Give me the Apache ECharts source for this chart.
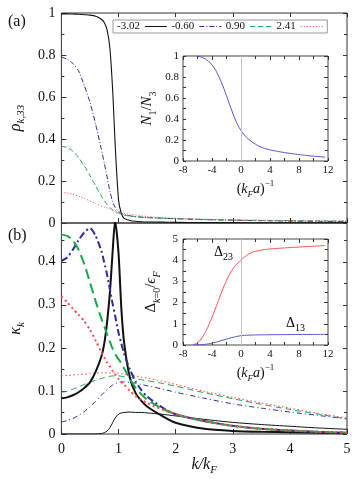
<!DOCTYPE html>
<html>
<head>
<meta charset="utf-8">
<script src="https://cdn.jsdelivr.net/npm/echarts@6/dist/echarts.min.js"></script>
<style>
  html,body{margin:0;padding:0;background:#fff;}
  #chart{width:357px;height:479px;}
</style>
</head>
<body>
<div id="chart"></div>
<script>
  // k/k_F grid shared by both main panels
  var kGrid = [0,0.1,0.2,0.3,0.4,0.5,0.6,0.7,0.75,0.8,0.85,0.9,0.94,1.0,1.05,1.1,1.2,1.3,1.4,1.5,1.75,2,2.5,3,3.5,4,4.5,5];
  var legendNames = ['-3.02','-0.60','0.90','2.41'];

  // panel (a): rho_{k,33}
  var rhoBlack = [0.996,0.996,0.995,0.994,0.992,0.99,0.985,0.97,0.955,0.92,0.83,0.62,0.38,0.11,0.045,0.022,0.012,0.008,0.006,0.005,0.004,0.003,0.002,0.002,0.001,0.001,0.001,0.001];
  var rhoBlue  = [0.79,0.78,0.76,0.725,0.655,0.575,0.47,0.35,0.285,0.22,0.15,0.1,0.075,0.055,0.046,0.04,0.034,0.03,0.028,0.026,0.023,0.02,0.016,0.013,0.011,0.009,0.008,0.007];
  var rhoGreen = [0.365,0.36,0.342,0.312,0.272,0.226,0.176,0.128,0.107,0.088,0.073,0.062,0.055,0.047,0.042,0.038,0.033,0.03,0.028,0.026,0.023,0.021,0.017,0.014,0.012,0.011,0.01,0.009];
  var rhoRed   = [0.146,0.143,0.137,0.128,0.117,0.105,0.093,0.081,0.076,0.071,0.066,0.061,0.058,0.053,0.049,0.046,0.041,0.037,0.034,0.031,0.026,0.023,0.018,0.015,0.013,0.011,0.01,0.009];

  // panel (b): kappa_k, thick and thin curve for each value
  var kapBlackThick = [0.083,0.085,0.09,0.097,0.107,0.12,0.145,0.18,0.21,0.26,0.33,0.43,0.495,0.42,0.29,0.21,0.13,0.095,0.077,0.064,0.043,0.026,0.012,0.007,0.005,0.004,0.003,0.002];
  var kapBlueThick  = [0.402,0.41,0.428,0.45,0.468,0.478,0.46,0.425,0.398,0.37,0.335,0.3,0.275,0.235,0.21,0.185,0.15,0.122,0.102,0.087,0.063,0.046,0.03,0.019,0.012,0.008,0.005,0.003];
  var kapGreenThick = [0.463,0.46,0.45,0.428,0.395,0.352,0.308,0.268,0.25,0.232,0.214,0.197,0.186,0.174,0.164,0.152,0.128,0.107,0.092,0.08,0.06,0.046,0.03,0.019,0.012,0.008,0.005,0.003];
  var kapRedThick   = [0.32,0.306,0.291,0.277,0.262,0.242,0.217,0.19,0.178,0.166,0.156,0.146,0.139,0.128,0.12,0.114,0.1,0.088,0.079,0.072,0.058,0.046,0.03,0.019,0.012,0.008,0.005,0.003];
  var kapBlackThin  = [0,0,0,0,0,0,0,0.001,0.003,0.007,0.015,0.027,0.037,0.046,0.049,0.05,0.051,0.05,0.05,0.049,0.046,0.042,0.034,0.027,0.022,0.018,0.014,0.011];
  var kapBlueThin   = [0.028,0.031,0.036,0.043,0.052,0.063,0.076,0.09,0.097,0.103,0.109,0.114,0.117,0.12,0.121,0.121,0.12,0.118,0.115,0.112,0.105,0.097,0.083,0.07,0.06,0.051,0.043,0.035];
  var kapGreenThin  = [0.097,0.099,0.104,0.109,0.115,0.12,0.125,0.129,0.131,0.133,0.134,0.135,0.135,0.135,0.134,0.133,0.131,0.129,0.126,0.124,0.118,0.111,0.096,0.082,0.069,0.057,0.046,0.035];
  var kapRedThin    = [0.135,0.136,0.137,0.138,0.139,0.14,0.141,0.142,0.142,0.142,0.142,0.142,0.142,0.141,0.14,0.139,0.137,0.135,0.132,0.13,0.123,0.115,0.099,0.085,0.072,0.06,0.048,0.037];

  // inset (a): N1/N3 vs (k_F a)^-1
  var invA = [-6,-5.5,-5,-4.5,-4,-3.5,-3,-2.5,-2,-1.5,-1,-0.5,0,0.5,1,1.5,2,2.5,3,4,5,6,7,8,9,10,11,11.6];
  var n1n3 = [0.997,0.99,0.975,0.952,0.915,0.865,0.795,0.715,0.62,0.525,0.43,0.35,0.29,0.245,0.21,0.183,0.16,0.14,0.126,0.106,0.092,0.08,0.07,0.061,0.053,0.046,0.04,0.037];

  // inset (b): gaps at k=0
  var invB = [-6.6,-6,-5.5,-5,-4.5,-4,-3.5,-3,-2.5,-2,-1.5,-1,-0.5,0,0.5,1,1.5,2,3,4,6,8,10,11.6];
  var delta23 = [0,0.1,0.28,0.55,0.9,1.3,1.75,2.2,2.65,3.05,3.38,3.65,3.85,4.0,4.15,4.28,4.37,4.42,4.49,4.53,4.58,4.62,4.66,4.69];
  var delta13 = [0,0.005,0.015,0.03,0.055,0.09,0.13,0.18,0.23,0.28,0.33,0.37,0.41,0.44,0.455,0.465,0.47,0.475,0.48,0.485,0.49,0.495,0.498,0.5];

  var serif = '"Liberation Serif", "DejaVu Serif", serif';
  var ink = '#111';

  function pairs(xs, ys){
    return xs.map(function(x, i){ return [x, ys[i]]; });
  }

  // rich styles for small math labels
  function mathRich(big, small){
    var lh = Math.round(big * 1.4);
    return {
      t: {fontFamily: serif, fontSize: big, lineHeight: lh, color: ink},
      i: {fontFamily: serif, fontStyle: 'italic', fontSize: big, lineHeight: lh, color: ink},
      s: {fontFamily: serif, fontStyle: 'italic', fontSize: small, lineHeight: small, verticalAlign: 'bottom', color: ink},
      n: {fontFamily: serif, fontSize: small, lineHeight: small, verticalAlign: 'bottom', color: ink},
      p: {fontFamily: serif, fontSize: small, lineHeight: small, verticalAlign: 'top', color: ink}
    };
  }

  function line(name, xi, yi, xs, ys, color, width, dash){
    return {
      name: name,
      type: 'line',
      xAxisIndex: xi,
      yAxisIndex: yi,
      data: pairs(xs, ys),
      showSymbol: false,
      symbol: 'none',
      smooth: 0.25,
      lineStyle: {color: color, width: width, type: dash || 'solid'},
      itemStyle: {color: color},
      z: 3
    };
  }

  var tickIn = function(len){ return {show: true, inside: true, length: len, lineStyle: {color: '#333'}}; };
  var minorIn = function(n){ return {show: true, splitNumber: n, length: 3, lineStyle: {color: '#333'}}; };
  var noLine = {show: false, onZero: false};

  // mirrored axis on the opposite side: ticks only
  function mirrorX(grid, min, max, interval, minor){
    return {type: 'value', gridIndex: grid, position: 'top', min: min, max: max, interval: interval,
      axisLine: noLine, axisLabel: {show: false}, splitLine: {show: false},
      axisTick: tickIn(4), minorTick: minor ? minorIn(minor) : {show: false}};
  }
  function mirrorY(grid, min, max, interval, minor){
    return {type: 'value', gridIndex: grid, position: 'right', min: min, max: max, interval: interval,
      axisLine: noLine, axisLabel: {show: false}, splitLine: {show: false},
      axisTick: tickIn(4), minorTick: minor ? minorIn(minor) : {show: false}};
  }

  var BLUE = '#2c2c9c', GREEN = '#17a84a', RED = '#ff4545';

  var option = {
    animation: false,
    backgroundColor: '#fff',
    legend: {
      left: 113, top: 20,
      data: legendNames,
      align: 'right',
      itemWidth: 22, itemHeight: 8, itemGap: 4,
      padding: [1, 4],
      borderColor: '#999', borderWidth: 1,
      backgroundColor: '#fff',
      textStyle: {fontFamily: serif, fontSize: 11, color: ink},
      itemStyle: {opacity: 0, borderWidth: 0},
      lineStyle: {width: 1},
      selectedMode: false
    },
    grid: [
      {left: 53, top: 13, width: 294, height: 210, show: true, borderColor: '#333', borderWidth: 1, backgroundColor: 'transparent'},
      {left: 53, top: 223, width: 294, height: 211, show: true, borderColor: '#333', borderWidth: 1, backgroundColor: 'transparent'},
      {left: 183, top: 56, width: 145, height: 105, show: true, borderColor: '#444', borderWidth: 1, backgroundColor: 'transparent'},
      {left: 183, top: 239, width: 145, height: 106, show: true, borderColor: '#444', borderWidth: 1, backgroundColor: 'transparent'}
    ],
    xAxis: [
      {type: 'value', gridIndex: 0, min: 0, max: 5, interval: 1,
        axisLine: noLine, axisLabel: {show: false}, splitLine: {show: false}, axisTick: tickIn(5)},
      {type: 'value', gridIndex: 1, min: 0, max: 5, interval: 1,
        axisLine: noLine, splitLine: {show: false}, axisTick: tickIn(5),
        axisLabel: {fontFamily: serif, fontSize: 14, color: ink, margin: 8},
        name: '{i|k/k}{s|F}', nameLocation: 'middle', nameGap: 20,
        nameTextStyle: {rich: mathRich(16, 11)}},
      {type: 'value', gridIndex: 2, min: -8, max: 12, interval: 4,
        axisLine: noLine, splitLine: {show: false}, axisTick: tickIn(3), minorTick: minorIn(2),
        axisLabel: {fontFamily: serif, fontSize: 11, color: ink, margin: 4},
        name: '{t|(}{i|k}{s|F}{i|a}{t|)}{p|−1}', nameLocation: 'middle', nameGap: 18,
        nameTextStyle: {rich: mathRich(14, 9)}},
      {type: 'value', gridIndex: 3, min: -8, max: 12, interval: 4,
        axisLine: noLine, splitLine: {show: false}, axisTick: tickIn(3), minorTick: minorIn(2),
        axisLabel: {fontFamily: serif, fontSize: 11, color: ink, margin: 4},
        name: '{t|(}{i|k}{s|F}{i|a}{t|)}{p|−1}', nameLocation: 'middle', nameGap: 18,
        nameTextStyle: {rich: mathRich(14, 9)}},
      mirrorX(0, 0, 5, 1, 0),
      mirrorX(2, -8, 12, 4, 2),
      mirrorX(3, -8, 12, 4, 2)
    ],
    yAxis: [
      {type: 'value', gridIndex: 0, min: 0, max: 1, interval: 0.2,
        axisLine: noLine, splitLine: {show: false}, axisTick: tickIn(5), minorTick: minorIn(2),
        axisLabel: {fontFamily: serif, fontSize: 14, color: ink, margin: 6},
        name: '{i|ρ}{s|k,33}', nameLocation: 'middle', nameGap: 28, nameRotate: 90,
        nameTextStyle: {rich: mathRich(16, 11)}},
      {type: 'value', gridIndex: 1, min: 0, max: 0.49, interval: 0.1,
        axisLine: noLine, splitLine: {show: false}, axisTick: tickIn(5), minorTick: minorIn(2),
        axisLabel: {fontFamily: serif, fontSize: 14, color: ink, margin: 6, showMaxLabel: false},
        name: '{i|κ}{s|k}', nameLocation: 'middle', nameGap: 28, nameRotate: 90,
        nameTextStyle: {rich: mathRich(16, 11)}},
      {type: 'value', gridIndex: 2, min: 0, max: 1, interval: 0.2,
        axisLine: noLine, splitLine: {show: false}, axisTick: tickIn(3), minorTick: minorIn(2),
        axisLabel: {fontFamily: serif, fontSize: 11, color: ink, margin: 4},
        name: '{i|N}{n|1}{t|/}{i|N}{n|3}', nameLocation: 'middle', nameGap: 25, nameRotate: 90,
        nameTextStyle: {rich: mathRich(15, 10)}},
      {type: 'value', gridIndex: 3, min: 0, max: 5, interval: 1,
        axisLine: noLine, splitLine: {show: false}, axisTick: tickIn(3), minorTick: minorIn(2),
        axisLabel: {fontFamily: serif, fontSize: 11, color: ink, margin: 5},
        name: '{t|Δ}{s|k}{n|=0}{t|/}{i|ϵ}{s|F}', nameLocation: 'middle', nameGap: 21, nameRotate: 90,
        nameTextStyle: {rich: mathRich(15, 10)}},
      mirrorY(0, 0, 1, 0.2, 2),
      mirrorY(1, 0, 0.49, 0.1, 2),
      mirrorY(2, 0, 1, 0.2, 2),
      mirrorY(3, 0, 5, 1, 2)
    ],
    graphic: [
      {type: 'text', left: 8, top: 14, style: {text: '(a)', fontFamily: serif, fontSize: 16, fill: ink}},
      {type: 'text', left: 8, top: 228, style: {text: '(b)', fontFamily: serif, fontSize: 16, fill: ink}},
      {type: 'text', left: 214, top: 245, z: 10, style: {text: '{t|Δ}{n|23}', rich: mathRich(14, 10)}},
      {type: 'text', left: 286, top: 316, z: 10, style: {text: '{t|Δ}{n|13}', rich: mathRich(14, 10)}}
    ],
    series: [
      // panel (a) first so the legend uses these thin lines
      line('-3.02', 0, 0, kGrid, rhoBlack, ink, 1.1),
      line('-0.60', 0, 0, kGrid, rhoBlue, BLUE, 1, [5, 2, 1, 2]),
      line('0.90', 0, 0, kGrid, rhoGreen, GREEN, 1, [5, 3]),
      line('2.41', 0, 0, kGrid, rhoRed, RED, 1, [1, 2]),
      // panel (b) thin
      line('-3.02', 1, 1, kGrid, kapBlackThin, ink, 1),
      line('-0.60', 1, 1, kGrid, kapBlueThin, BLUE, 1, [5, 3, 1, 3]),
      line('0.90', 1, 1, kGrid, kapGreenThin, GREEN, 1, [6, 4]),
      line('2.41', 1, 1, kGrid, kapRedThin, RED, 1, [1.5, 2.5]),
      // panel (b) thick
      line('-3.02', 1, 1, kGrid, kapBlackThick, ink, 2),
      line('-0.60', 1, 1, kGrid, kapBlueThick, BLUE, 2, [7, 3, 2, 3]),
      line('0.90', 1, 1, kGrid, kapGreenThick, GREEN, 2, [10, 5]),
      line('2.41', 1, 1, kGrid, kapRedThick, RED, 2, [2, 3]),
      // insets
      Object.assign(line('N1/N3', 2, 2, invA, n1n3, '#5656c8', 1), {
        markLine: {silent: true, symbol: 'none', label: {show: false},
          lineStyle: {color: '#c4c4c4', width: 1, type: 'solid'}, data: [{xAxis: 0}]}
      }),
      Object.assign(line('Δ23', 3, 3, invB, delta23, '#ff5252', 1), {
        markLine: {silent: true, symbol: 'none', label: {show: false},
          lineStyle: {color: '#c4c4c4', width: 1, type: 'solid'}, data: [{xAxis: 0}]}
      }),
      line('Δ13', 3, 3, invB, delta13, '#5656c8', 1)
    ]
  };

  var chart = echarts.init(document.getElementById('chart'));
  chart.setOption(option);
</script>
</body>
</html>
